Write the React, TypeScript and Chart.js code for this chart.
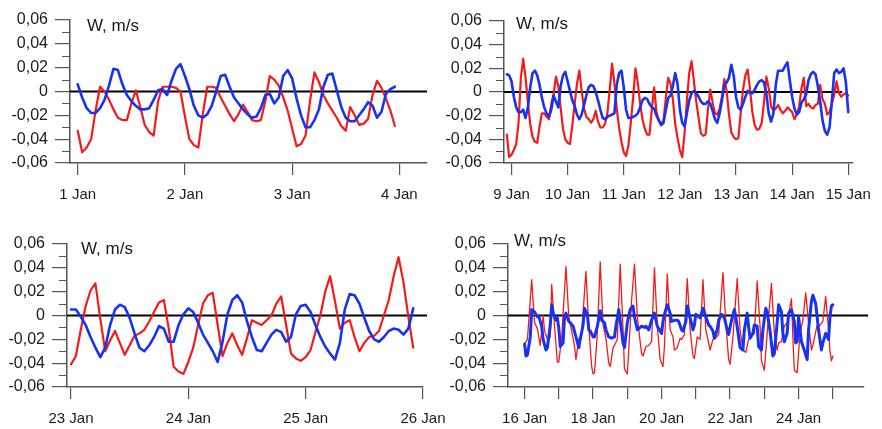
import React, { useEffect, useRef } from 'react';
import { Chart, registerables } from 'chart.js';

Chart.register(...registerables);

const FONT = '"Liberation Sans", Arial, Helvetica, sans-serif';
const RED = '#f51a1a';
const BLUE = '#1732f2';
const AXIS = '#555555';
const TEXT = '#1a1a1a';

// ---------- Panel 1: 1–4 Jan, hourly from 1 Jan 00:00 ----------
const p1StartDay = 1;
const p1StartHour = 0;
const p1Red = [
  -0.033, -0.051, -0.047, -0.040, -0.016, 0.004, 0, -0.007, -0.015, -0.022,
  -0.024, -0.024, -0.010, 0.001, -0.013, -0.028, -0.034, -0.037, -0.008, 0.004,
  0.004, 0.004, 0.003, 0, -0.021, -0.040, -0.045, -0.047, -0.019, 0.004,
  0.004, 0.003, -0.005, -0.012, -0.019, -0.025, -0.019, -0.011, -0.017, -0.024,
  -0.025, -0.024, -0.008, 0.013, 0.010, 0.005, -0.005, -0.016, -0.031, -0.046,
  -0.044, -0.037, -0.008, 0.016, 0.008, -0.003, -0.010, -0.016, -0.022, -0.029,
  -0.033, -0.013, -0.020, -0.028, -0.027, -0.023, -0.003, 0.009, 0.003, -0.006,
  -0.016, -0.029,
];
const p1Blue = [
  0.006, -0.005, -0.014, -0.018, -0.018, -0.014, -0.007, 0.005, 0.019, 0.018,
  0.006, -0.003, -0.008, -0.012, -0.015, -0.015, -0.014, -0.007, 0.001, 0.002,
  -0.003, 0.009, 0.019, 0.023, 0.013, 0.002, -0.012, -0.020, -0.022, -0.019,
  -0.012, 0, 0.013, 0.014, 0.004, -0.005, -0.010, -0.015, -0.019, -0.022,
  -0.021, -0.014, -0.003, -0.002, -0.010, -0.005, 0.013, 0.018, 0.011, -0.006,
  -0.020, -0.030, -0.030, -0.024, -0.015, 0.004, 0.014, 0.015, 0.001, -0.013,
  -0.022, -0.025, -0.025, -0.020, -0.015, -0.009, -0.012, -0.022, -0.017, -0.002,
  0.002, 0.004,
];
const p1Ticks = [1, 2, 3, 4];

// ---------- Panel 2: 9–15 Jan, hourly from 8 Jan 22:00 ----------
const p2StartDay = 9;
const p2StartHour = -2;
const p2Red = [
  -0.036, -0.055,
  -0.053, -0.049, -0.044, -0.026, 0.012, 0.028, 0.012, -0.009, -0.027, -0.038,
  -0.042, -0.043, -0.029, -0.018, -0.018, -0.021, -0.023, -0.010, -0.002, 0.013,
  0.005, -0.013, -0.031, -0.040, -0.043, -0.044, -0.028, -0.010, 0.007, 0.018,
  0.001, -0.014, -0.021, -0.023, -0.026, -0.023, -0.016, -0.025, -0.030, -0.030,
  -0.027, -0.018, 0.002, 0.024, 0.008, -0.014, -0.030, -0.042, -0.051, -0.054,
  -0.045, -0.026, -0.005, 0.020, 0.008, -0.010, -0.023, -0.031, -0.036, -0.036,
  -0.015, 0.004, -0.017, -0.024, -0.027, -0.024, -0.005, 0.012, 0.007, -0.006,
  -0.027, -0.039, -0.049, -0.055, -0.035, -0.007, 0.016, 0.026, 0.009, -0.008,
  -0.022, -0.035, -0.037, -0.036, -0.015, 0.002, -0.009, -0.018, -0.019, -0.014,
  -0.004, 0.011, 0.001, -0.019, -0.034, -0.038, -0.040, -0.039, -0.018, 0.002,
  0.014, 0.019, 0.002, -0.017, -0.028, -0.032, -0.031, -0.026, -0.008, 0.013,
  0.003, -0.012, -0.016, -0.014, -0.011, -0.015, -0.018, -0.016, -0.013, -0.015,
  -0.017, -0.023, -0.019, -0.012, 0.003, 0.012, -0.012, -0.010, -0.013, -0.014,
  -0.011, -0.010, 0.006, -0.006, -0.010, -0.019, -0.017, -0.010, -0.002, 0.009,
  -0.001, -0.004, -0.002, -0.001, -0.003,
];
const p2Blue = [
  0.015, 0.014,
  0.009, -0.004, -0.013, -0.017, -0.017, -0.015, -0.022, -0.013, 0.004, 0.016,
  0.018, 0.014, 0.006, -0.005, -0.013, -0.018, -0.021, -0.015, -0.003, -0.008,
  -0.013, 0.005, 0.014, 0.017, 0.009, 0.001, -0.007, -0.012, -0.019, -0.023,
  -0.019, -0.011, -0.003, 0.004, 0.006, 0.005, 0, -0.007, -0.015, -0.022,
  -0.023, -0.021, -0.020, -0.019, -0.018, 0.006, 0.016, 0.018, 0.004, -0.015,
  -0.022, -0.022, -0.021, -0.020, -0.018, -0.013, -0.007, -0.005, -0.006, -0.010,
  -0.013, -0.014, -0.020, -0.024, -0.028, -0.026, -0.015, -0.005, -0.003, 0.005,
  0.016, 0.007, -0.015, -0.026, -0.029, -0.018, -0.007, -0.001, 0.001, -0.001,
  -0.004, -0.008, -0.010, -0.010, -0.008, -0.010, -0.016, -0.023, -0.026, -0.018,
  -0.007, 0.006, 0.008, 0.012, 0.023, 0.014, -0.004, -0.013, -0.015, -0.010,
  -0.004, 0.001, -0.001, -0.001, 0.002, 0.006, 0.009, 0.010, 0.008, -0.002,
  -0.018, -0.025, -0.018, 0.006, 0.018, 0.018, 0.018, 0.022, 0.025, 0.010,
  -0.004, -0.014, -0.019, -0.017, -0.009, -0.006, -0.002, 0.010, 0.015, 0.017,
  0.015, 0.005, -0.008, -0.024, -0.033, -0.036, -0.030, -0.008, 0.016, 0.019,
  0.016, 0.017, 0.020, 0.008, -0.017,
];
const p2Ticks = [9, 10, 11, 12, 13, 14, 15];

// ---------- Panel 3: 23–26 Jan, hourly from 23 Jan 00:00 ----------
const p3StartDay = 23;
const p3StartHour = 0;
const p3Red = [
  -0.041, -0.034, -0.012, 0.008, 0.021, 0.027, -0.003, -0.030, -0.021, -0.013,
  -0.023, -0.033, -0.025, -0.017, -0.015, -0.012, -0.005, 0.003, 0.011, 0.013,
  -0.011, -0.043, -0.047, -0.049, -0.039, -0.027, -0.008, 0.010, 0.017, 0.019,
  -0.008, -0.034, -0.023, -0.015, -0.025, -0.033, -0.019, -0.004, -0.006, -0.008,
  -0.004, 0, 0.010, 0.016, -0.008, -0.032, -0.036, -0.038, -0.035, -0.029,
  -0.014, 0, 0.020, 0.033, 0.012, -0.011, -0.006, -0.004, -0.018, -0.030,
  -0.023, -0.018, -0.017, -0.013, 0, 0.013, 0.033, 0.049, 0.028, -0.001,
  -0.027,
];
const p3Blue = [
  0.005, 0.005, -0.001, -0.008, -0.018, -0.027, -0.035, -0.027, -0.008, 0.005,
  0.009, 0.007, -0.002, -0.015, -0.027, -0.030, -0.025, -0.018, -0.009, -0.011,
  -0.022, -0.022, -0.008, 0.001, 0.006, 0.003, -0.006, -0.016, -0.023, -0.030,
  -0.039, -0.022, 0.001, 0.013, 0.017, 0.011, -0.005, -0.018, -0.029, -0.030,
  -0.023, -0.016, -0.012, -0.014, -0.022, -0.018, 0.001, 0.008, 0.009, 0.003,
  -0.008, -0.018, -0.026, -0.032, -0.037, -0.023, 0.005, 0.018, 0.017, 0.010,
  -0.002, -0.013, -0.020, -0.022, -0.018, -0.013, -0.011, -0.012, -0.016, -0.011,
  0.006,
];
const p3Ticks = [23, 24, 25, 26];

// ---------- Panel 4: 16–25 Jan, hours after 16 Jan 00:00 ----------
const p4StartDay = 16;
const p4RedHours = [
  0, 2, 5, 7, 9, 11, 13, 14, 16, 18,
  19, 21, 23, 24, 26, 29, 31, 33, 35, 36,
  38, 40, 43, 45, 47, 48, 49, 51, 53, 55,
  57, 59, 60, 62, 63, 65, 67, 69, 70, 72,
  73, 75, 77, 79, 80, 82, 83, 85, 87, 89,
  91, 93, 95, 97, 98, 100, 102, 104, 105, 107,
  109, 110, 112, 114, 116, 118, 119, 121, 123, 125,
  127, 129, 130, 132, 134, 136, 139, 141, 143, 144,
  146, 149, 151, 153, 155, 157, 159, 161, 163, 165,
  166, 168, 170, 173, 175, 177, 178, 180, 181, 182,
  184, 187, 188, 189, 191, 193, 195, 197, 199, 201,
  202, 205, 207, 209, 211, 213, 214, 215, 216,
];
const p4RedW = [
  -0.024, -0.020, 0.030, -0.006, -0.011, -0.025, 0.000, -0.013, -0.020, -0.018,
  0.026, -0.009, -0.039, -0.039, -0.018, 0.041, -0.002, -0.013, -0.026, -0.037,
  -0.020, -0.015, 0.037, -0.009, -0.043, -0.049, -0.048, -0.015, 0.045, -0.008,
  -0.019, -0.040, -0.043, -0.027, -0.025, -0.020, 0.043, -0.012, -0.045, -0.049,
  -0.029, 0.013, 0.043, 0.000, -0.012, -0.032, -0.034, -0.026, -0.025, -0.022,
  0.040, -0.009, -0.037, -0.043, -0.026, 0.035, -0.012, -0.018, -0.029, -0.027,
  -0.019, -0.020, -0.016, 0.031, -0.012, -0.034, -0.036, -0.018, -0.020, 0.030,
  -0.012, -0.023, -0.029, -0.020, -0.019, -0.016, 0.036, -0.006, -0.037, -0.041,
  -0.018, 0.031, -0.012, -0.029, -0.031, -0.020, -0.017, -0.015, 0.029, -0.009,
  -0.038, -0.046, -0.015, 0.027, -0.015, -0.029, -0.023, -0.022, -0.015, -0.009,
  -0.006, 0.014, -0.018, -0.046, -0.048, -0.015, -0.004, 0.019, -0.006, -0.029,
  -0.025, -0.008, -0.008, -0.005, 0.016, -0.012, -0.030, -0.038, -0.034,
];
const p4BlueHours = [
  0, 1, 2, 4, 5, 7, 9, 10, 12, 13,
  15, 16, 18, 19, 20, 22, 23, 24, 25, 27,
  28, 29, 31, 32, 34, 36, 38, 39, 41, 42,
  44, 45, 46, 48, 49, 51, 53, 54, 56, 57,
  59, 61, 63, 64, 66, 67, 69, 70, 72, 74,
  76, 77, 79, 80, 82, 84, 85, 87, 89, 90,
  91, 93, 95, 96, 97, 98, 100, 102, 103, 105,
  107, 108, 110, 111, 113, 114, 116, 118, 119, 120,
  122, 123, 125, 127, 129, 130, 132, 133, 135, 136,
  138, 140, 142, 143, 145, 147, 148, 150, 151, 153,
  154, 156, 157, 158, 160, 161, 163, 164, 166, 167,
  169, 170, 172, 174, 175, 177, 178, 180, 181, 182,
  184, 185, 187, 189, 190, 191, 192, 194, 196, 198,
  199, 201, 202, 204, 206, 208, 209, 211, 213, 214,
  215, 216,
];
const p4BlueW = [
  -0.024, -0.034, -0.033, -0.018, 0.005, 0.003, -0.001, -0.001, -0.009, -0.020,
  -0.029, -0.027, -0.008, 0.009, 0.002, -0.004, -0.002, -0.011, -0.026, -0.023,
  -0.001, 0.002, -0.005, -0.006, -0.009, -0.018, -0.027, -0.020, -0.008, 0.006,
  0.001, -0.012, -0.013, -0.018, -0.018, -0.009, 0.004, -0.004, -0.006, -0.012,
  -0.018, -0.019, -0.018, -0.009, 0.005, -0.004, -0.023, -0.027, -0.006, 0.005,
  0.008, -0.001, -0.012, -0.011, -0.009, -0.010, -0.009, -0.012, -0.004, -0.001,
  0.002, -0.009, -0.013, -0.015, -0.005, 0.001, 0.009, 0.002, -0.005, -0.004,
  -0.004, -0.005, -0.012, -0.013, -0.005, 0.008, -0.002, -0.012, -0.008, 0.001,
  -0.001, -0.002, 0.006, -0.001, -0.008, -0.009, -0.013, -0.019, -0.012, -0.004,
  0.001, -0.002, -0.012, -0.016, -0.004, 0.005, -0.001, -0.018, -0.027, -0.029,
  -0.012, 0.002, -0.010, -0.019, -0.015, -0.008, -0.009, -0.026, -0.029, -0.012,
  0.006, 0.003, -0.013, -0.034, -0.032, -0.006, 0.009, 0.003, -0.015, -0.022,
  -0.015, 0.002, 0.005, -0.005, -0.023, -0.022, -0.001, -0.022, -0.029, -0.037,
  -0.012, 0.012, 0.017, 0.010, -0.012, -0.029, -0.023, -0.015, -0.020, -0.001,
  0.008, 0.009,
];
const p4Ticks = [16, 17, 18, 19, 20, 21, 22, 23, 24, 25];
const p4LabelledDays = [16, 18, 20, 22, 24];

// ---------- shared axis data ----------
const yMajorTicks = [-0.06, -0.04, -0.02, 0, 0.02, 0.04, 0.06];
const yMinorTicks = [-0.05, -0.03, -0.01, 0.01, 0.03, 0.05];
const monthLabel = 'Jan';
const titleText = 'W, m/s';

const hourly = (startDay: number, startHour: number, values: number[]) =>
  values.map((w, i) => ({ x: startDay + (startHour + i) / 24, y: w }));
const timed = (startDay: number, hours: number[], values: number[]) =>
  values.map((w, i) => ({ x: startDay + hours[i] / 24, y: w }));

const CW = 882;
const CH = 429;
const YW = 60;
const XH = 40;

type Panel = {
  area: { left: number; top: number; right: number; bottom: number };
  xMin: number;
  xMax: number;
  ticks: number[];
  labelled: number[] | null;
  red: { x: number; y: number }[];
  blue: { x: number; y: number }[];
  redWidth: number;
  blueWidth: number;
  titleDx: number;
  titleDy: number;
  zeroExt: number;
};

const PANELS: Panel[] = [
  {
    area: { left: 70, top: 20, right: 427, bottom: 163 },
    xMin: 0.928, xMax: 4.258, ticks: p1Ticks, labelled: null,
    red: hourly(p1StartDay, p1StartHour, p1Red),
    blue: hourly(p1StartDay, p1StartHour, p1Blue),
    redWidth: 2.2, blueWidth: 2.6, titleDx: 17, titleDy: 11, zeroExt: 0,
  },
  {
    area: { left: 504, top: 21, right: 861, bottom: 163 },
    xMin: 8.866, xMax: 15.07, ticks: p2Ticks, labelled: null,
    red: hourly(p2StartDay, p2StartHour, p2Red),
    blue: hourly(p2StartDay, p2StartHour, p2Blue),
    redWidth: 2.2, blueWidth: 2.6, titleDx: 12, titleDy: 8, zeroExt: -10,
  },
  {
    area: { left: 67, top: 244, right: 423, bottom: 387 },
    xMin: 22.966, xMax: 26.0, ticks: p3Ticks, labelled: null,
    red: hourly(p3StartDay, p3StartHour, p3Red),
    blue: hourly(p3StartDay, p3StartHour, p3Blue),
    redWidth: 2.2, blueWidth: 2.6, titleDx: 14, titleDy: 10, zeroExt: 4,
  },
  {
    area: { left: 508, top: 244, right: 864, bottom: 387 },
    xMin: 15.516, xMax: 25.91, ticks: p4Ticks, labelled: p4LabelledDays,
    red: timed(p4StartDay, p4RedHours, p4RedW),
    blue: timed(p4StartDay, p4BlueHours, p4BlueW),
    redWidth: 1.3, blueWidth: 3, titleDx: 6, titleDy: 2, zeroExt: 4,
  },
];

const fmtY = (v: number) => {
  if (Math.abs(v) < 1e-9) return '0';
  return (v < 0 ? '-' : '') + Math.abs(v).toFixed(2).replace('.', ',');
};

function makeChart(canvas: HTMLCanvasElement, p: Panel) {
  const extras = {
    id: 'extras',
    beforeDatasetsDraw(chart: any) {
      const { ctx, chartArea } = chart;
      const ys = chart.scales.y;
      const y0 = ys.getPixelForValue(0);
      ctx.save();
      ctx.strokeStyle = '#000';
      ctx.lineWidth = 2;
      ctx.beginPath();
      ctx.moveTo(chartArea.left, y0);
      ctx.lineTo(chartArea.right + p.zeroExt, y0);
      ctx.stroke();
      ctx.strokeStyle = AXIS;
      ctx.lineWidth = 1.2;
      ctx.beginPath();
      for (const v of yMinorTicks) {
        const py = Math.round(ys.getPixelForValue(v)) + 0.5;
        ctx.moveTo(chartArea.left - 8, py);
        ctx.lineTo(chartArea.left, py);
      }
      ctx.stroke();
      ctx.restore();
    },
    afterDraw(chart: any) {
      const { ctx, chartArea } = chart;
      ctx.save();
      ctx.font = `17px ${FONT}`;
      ctx.fillStyle = TEXT;
      ctx.textBaseline = 'alphabetic';
      ctx.textAlign = 'left';
      ctx.fillText(titleText, chartArea.left + p.titleDx, chartArea.top + p.titleDy);
      ctx.restore();
    },
  };

  return new Chart(canvas, {
    type: 'line',
    data: {
      datasets: [
        {
          data: p.blue, borderColor: BLUE, borderWidth: p.blueWidth,
          pointRadius: 0, tension: 0, fill: false,
          borderJoinStyle: 'round', borderCapStyle: 'round',
        },
        {
          data: p.red, borderColor: RED, borderWidth: p.redWidth,
          pointRadius: 0, tension: 0, fill: false,
          borderJoinStyle: 'round', borderCapStyle: 'round',
        },
      ],
    },
    options: {
      animation: false,
      responsive: false,
      events: [],
      layout: {
        padding: {
          left: p.area.left - YW,
          top: p.area.top,
          right: CW - p.area.right,
          bottom: CH - p.area.bottom - XH,
        },
      },
      plugins: { legend: { display: false }, tooltip: { enabled: false }, title: { display: false } },
      scales: {
        x: {
          type: 'linear',
          min: p.xMin,
          max: p.xMax,
          afterBuildTicks: (s: any) => { s.ticks = p.ticks.map((v) => ({ value: v })); },
          afterFit: (s: any) => { s.height = XH; },
          grid: { display: true, drawOnChartArea: false, drawTicks: true, tickLength: 12, color: AXIS, lineWidth: 1.2 },
          border: { display: true, color: AXIS, width: 1.5 },
          ticks: {
            autoSkip: false, maxRotation: 0, minRotation: 0, padding: 11, color: TEXT,
            font: { family: FONT, size: 15 },
            callback: (v: any) => {
              const d = Math.round(Number(v));
              if (p.labelled && !p.labelled.includes(d)) return '';
              return `${d} ${monthLabel}`;
            },
          },
        },
        y: {
          type: 'linear',
          min: -0.06,
          max: 0.06,
          afterBuildTicks: (s: any) => { s.ticks = yMajorTicks.map((v) => ({ value: v })); },
          afterFit: (s: any) => { s.width = YW; },
          grid: { display: true, drawOnChartArea: false, drawTicks: true, tickLength: 15, color: AXIS, lineWidth: 1.2 },
          border: { display: true, color: AXIS, width: 1.5 },
          ticks: {
            autoSkip: false, padding: 7, color: TEXT,
            font: { family: FONT, size: 16 },
            callback: (v: any) => fmtY(Number(v)),
          },
        },
      },
    } as any,
    plugins: [extras],
  } as any);
}

export default function App() {
  const holder = useRef<(HTMLCanvasElement | null)[]>([]);
  useEffect(() => {
    const charts = PANELS.map((p, i) => makeChart(holder.current[i] as HTMLCanvasElement, p));
    return () => charts.forEach((c) => c.destroy());
  }, []);
  return (
    <div style={{ position: 'absolute', left: 0, top: 0, width: CW, height: CH, background: '#fff' }}>
      {PANELS.map((_, i) => (
        <canvas
          key={i}
          ref={(el) => { holder.current[i] = el; }}
          width={CW}
          height={CH}
          style={{ position: 'absolute', left: 0, top: 0, width: CW, height: CH }}
        />
      ))}
    </div>
  );
}
